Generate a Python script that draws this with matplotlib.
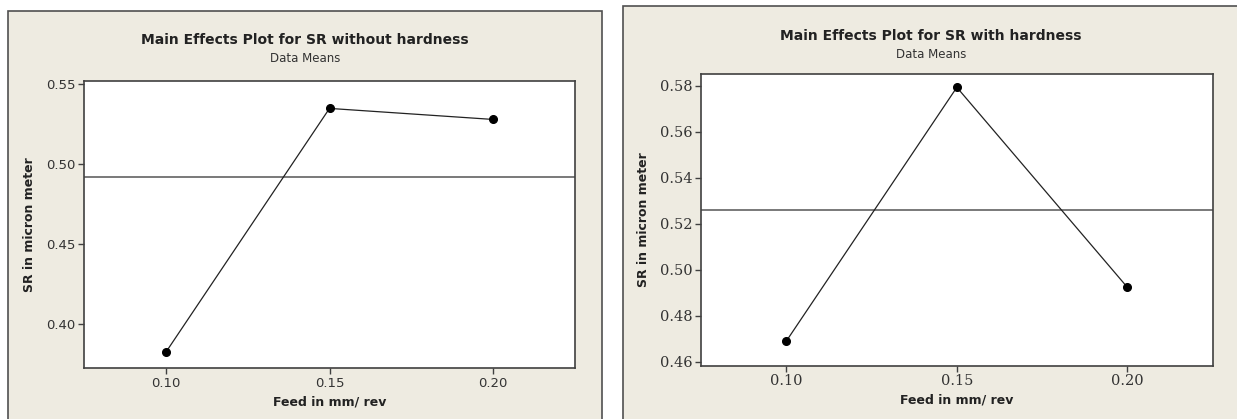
import matplotlib.pyplot as plt
from matplotlib.patches import Rectangle

# dados (Minitab - Main Effects Plot)
feed = [0.10, 0.15, 0.20]
x_ticks = [0.10, 0.15, 0.20]

sr_sem_dureza = [0.3825, 0.5348, 0.5279]
media_sem_dureza = 0.4918
y_ticks_sem = [0.40, 0.45, 0.50, 0.55]

sr_com_dureza = [0.4689, 0.5793, 0.4923]
media_com_dureza = 0.5261
y_ticks_com = [0.46, 0.48, 0.50, 0.52, 0.54, 0.56, 0.58]

titulos = ['Main Effects Plot for SR without hardness', 'Main Effects Plot for SR with hardness']

W, H = 1237, 419
fundo = '#eeebe1'

fig = plt.figure(figsize=(W / 100, H / 100), dpi=100)
fig.patch.set_facecolor('white')

# molduras bege de cada painel (em pixels -> fracao da figura)
for x0, x1, y0 in [(8, 602, 11), (623, 1242, 6)]:
    fig.patches.append(Rectangle((x0 / W, -0.05), (x1 - x0) / W, (H - y0) / H + 0.05,
                                 transform=fig.transFigure, facecolor=fundo,
                                 edgecolor='#505050', linewidth=1.2, zorder=-5))

# eixos: esquerda, baixo, largura, altura
ax1 = fig.add_axes([84 / W, (H - 368.3) / H, 491 / W, 287.6 / H])
ax2 = fig.add_axes([701 / W, (H - 366) / H, 511.7 / W, 292 / H])

def desenha(ax, valores, media, yticks, ylim, titulo, cx, ty, fonte_ticks):
    ax.set_facecolor('white')
    ax.plot(feed, valores, color='#222222', linewidth=0.9, marker='o',
            markersize=5.5, markerfacecolor='black', markeredgecolor='black', zorder=3)
    ax.axhline(media, color='#555555', linewidth=1.1, zorder=2)
    ax.set_xlim(0.075, 0.225)
    ax.set_ylim(*ylim)
    ax.set_xticks(x_ticks)
    ax.set_xticklabels(['%.2f' % v for v in x_ticks])
    ax.set_yticks(yticks)
    ax.set_yticklabels(['%.2f' % v for v in yticks])
    for s in ax.spines.values():
        s.set_color('#404040')
        s.set_linewidth(1.2)
    ax.tick_params(direction='out', length=4, width=1, color='#404040',
                   labelcolor='#333333', labelsize=fonte_ticks[1], pad=2)
    for lab in ax.get_xticklabels() + ax.get_yticklabels():
        lab.set_family(fonte_ticks[0])
    ax.set_xlabel('Feed in mm/ rev', fontsize=9, fontweight='bold', color='#222222',
                  family='DejaVu Sans', labelpad=4)
    ax.set_ylabel('SR in micron meter', fontsize=9, fontweight='bold', color='#222222',
                  family='DejaVu Sans', labelpad=7)
    fig.text(cx / W, 1 - ty / H, titulo, ha='center', va='center', fontsize=10,
             fontweight='bold', color='#222222', family='DejaVu Sans')
    fig.text(cx / W, 1 - (ty + 18) / H, 'Data Means', ha='center', va='center',
             fontsize=8.5, color='#333333', family='DejaVu Sans')

desenha(ax1, sr_sem_dureza, media_sem_dureza, y_ticks_sem, (0.3725, 0.5521),
        titulos[0], 305, 40, ('DejaVu Sans', 9.5))
desenha(ax2, sr_com_dureza, media_com_dureza, y_ticks_com, (0.4581, 0.5851),
        titulos[1], 931, 36, ('DejaVu Serif', 10.5))

plt.savefig('out.png', dpi=100, facecolor=fig.get_facecolor())
